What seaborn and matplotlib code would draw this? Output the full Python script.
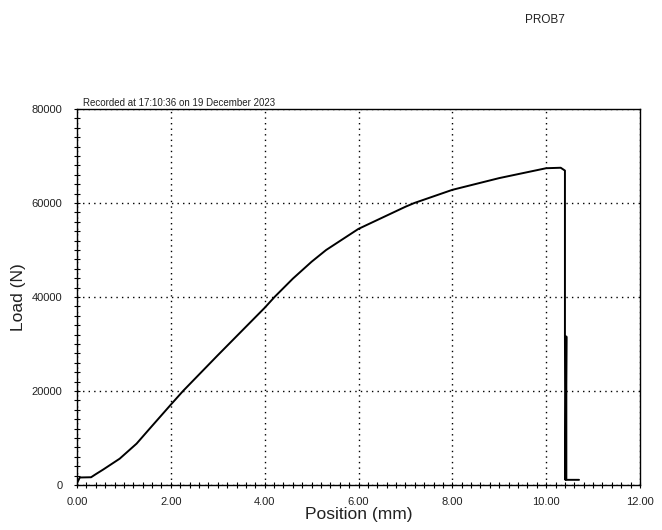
import matplotlib
matplotlib.use("Agg")
import matplotlib.pyplot as plt
import seaborn as sns
import pandas as pd
from matplotlib.ticker import MultipleLocator, FormatStrFormatter

# Data
position_mm = [0.00, 0.06, 0.30, 0.40, 0.56, 0.91, 1.27, 1.55, 2.00, 2.26, 3.00,
               4.00, 4.21, 4.60, 5.00, 5.31, 6.00, 7.00, 7.19, 8.00, 9.00, 10.00,
               10.31, 10.40, 10.40, 10.41, 10.43, 10.43, 10.70]
load_n = [400, 1600, 1650, 2300, 3300, 5600, 8800, 12000, 17100, 20000, 27600,
          37700, 40000, 43900, 47500, 50000, 54500, 59200, 60000, 62800, 65300, 67400,
          67500, 66900, 31600, 1100, 31600, 1100, 1100]

title_text = "Recorded at 17:10:36 on 19 December 2023"
header_text = "PROB7"
x_label = "Position (mm)"
y_label = "Load (N)"

df = pd.DataFrame({"pos": position_mm, "load": load_n})

sns.set_theme(style="white", rc={"xtick.bottom": True, "ytick.left": True})
plt.rcParams["font.family"] = ["Liberation Sans", "DejaVu Sans"]

fig = plt.figure(figsize=(6.62, 5.30), dpi=100)
ax = fig.add_axes([77/662, 45/530, (640-77)/662, (485-109)/530])

sns.lineplot(data=df, x="pos", y="load", sort=False, estimator=None,
             color="black", linewidth=1.4, ax=ax)

ax.set_xlim(0, 12)
ax.set_ylim(0, 80000)
ax.xaxis.set_major_locator(MultipleLocator(2))
ax.xaxis.set_minor_locator(MultipleLocator(0.2))
ax.yaxis.set_major_locator(MultipleLocator(20000))
ax.yaxis.set_minor_locator(MultipleLocator(2000))
ax.xaxis.set_major_formatter(FormatStrFormatter("%.2f"))
ax.yaxis.set_major_formatter(FormatStrFormatter("%d"))

ax.grid(True, which="major", color="black", linestyle=(0, (1, 3)), linewidth=1.0)
for s in ax.spines.values():
    s.set_color("black")
    s.set_linewidth(1.0)

ax.tick_params(axis="both", which="both", bottom=True, left=True, top=False, right=False)
ax.tick_params(axis="both", which="major", direction="inout", length=5, width=0.8,
               colors="black", labelsize=8, labelcolor="#222222")
ax.tick_params(axis="both", which="minor", direction="inout", length=4, width=0.8,
               colors="black")
ax.tick_params(axis="y", which="major", pad=8)
ax.tick_params(axis="x", which="major", pad=6)

ax.set_xlabel(x_label, fontsize=12.5, color="#222222", labelpad=0)
ax.set_ylabel(y_label, fontsize=12.5, color="#222222", labelpad=4)

ax.text(0.01, 1.003, title_text, transform=ax.transAxes, fontsize=7,
        ha="left", va="bottom", color="#222222")
fig.text(525/662, 1 - 20/530, header_text, fontsize=8.5, ha="left", va="center",
         color="#222222")

fig.savefig("out.png", dpi=100)
